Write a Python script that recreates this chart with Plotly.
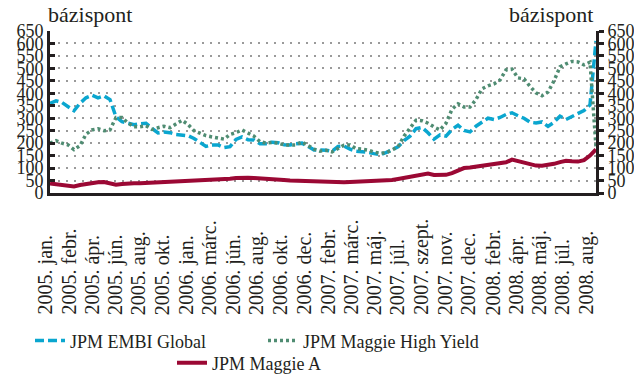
import plotly.graph_objects as go

# Spreads in basis points, roughly weekly, 2005 jan. -> 2008 autumn
embi_global = [
    360, 370, 363, 347, 330, 360, 382, 392, 382, 390,
    375, 305, 286, 280, 274, 278, 280, 259, 241, 245,
    242, 235, 233, 230, 219, 201, 187, 193, 193, 182,
    186, 215, 225, 214, 213, 198, 198, 204, 202, 194,
    193, 198, 200, 187, 173, 173, 172, 167, 187, 188,
    176, 168, 166, 163, 158, 154, 162, 174, 185, 210,
    228, 258, 263, 242, 216, 233, 228, 255, 272, 251,
    245, 268, 282, 300, 295, 303, 315, 322, 310, 300,
    284, 281, 285, 267, 284, 308, 295, 306, 319, 331,
    353, 610,
]
maggie_high_yield = [
    200, 210, 200, 193, 174, 190, 236, 253, 258, 250,
    253, 303, 303, 281, 266, 266, 270, 255, 262, 268,
    262, 278, 292, 275, 250, 240, 230, 225, 219, 216,
    235, 242, 253, 242, 228, 206, 200, 203, 200, 193,
    193, 193, 205, 190, 176, 168, 171, 165, 178, 192,
    193, 178, 176, 172, 164, 160, 161, 173, 185, 228,
    260, 292, 290, 280, 265, 253, 280, 336, 358, 345,
    345, 375, 418, 430, 438, 453, 494, 497, 462, 458,
    428, 402, 390, 405, 450, 506, 518, 528, 526, 514,
    525, 186,
]
maggie_a = [
    38, 34, 31, 27, 26, 32, 37, 40, 43, 44,
    38, 33, 36, 39, 39, 39, 40, 41, 41, 43,
    44, 46, 47, 48, 50, 51, 52, 53, 54, 55,
    57, 60, 62, 61, 60, 59, 58, 58, 56, 52,
    50, 49, 48, 48, 46, 45, 44, 42, 42, 43,
    44, 45, 45, 45, 45, 46, 49, 52, 56, 61,
    66, 69, 75, 78, 72, 71, 73, 80, 92, 100,
    102, 105, 107, 110, 114, 118, 123, 134, 128, 121,
    114, 110, 109, 112, 117, 124, 129, 127, 126, 132,
    150, 175,
]

date_labels = [
    "2005. jan.", "2005. febr.", "2005. ápr.", "2005. jún.", "2005. aug.",
    "2005. okt.", "2006. jan.", "2006. márc.", "2006. jún.", "2006. aug.",
    "2006. okt.", "2006. dec.", "2007. febr.", "2007. márc.", "2007. máj.",
    "2007. júl.", "2007. szept.", "2007. nov.", "2007. dec.", "2008. febr.",
    "2008. ápr.", "2008. máj.", "2008. júl.", "2008. aug.",
]
y_ticks = list(range(0, 651, 50))

x = list(range(len(embi_global)))
FONT = "Liberation Serif, Times New Roman, DejaVu Serif, serif"
TXT = "#231f20"

fig = go.Figure()

fig.add_trace(go.Scatter(
    x=x, y=embi_global, mode="lines", name="JPM EMBI Global",
    line=dict(color="#0aa6cf", width=3.5, dash="9px,4px"),
    legend="legend",
))
fig.add_trace(go.Scatter(
    x=x, y=maggie_high_yield, mode="lines", name="JPM Maggie High Yield",
    line=dict(color="#4f8c72", width=3.5, dash="3px,3px"),
    legend="legend2",
))
# Maggie A sits on the mirrored right axis so that axis gets drawn
fig.add_trace(go.Scatter(
    x=x, y=maggie_a, mode="lines", name="JPM Maggie A",
    line=dict(color="#9b0834", width=4),
    legend="legend3", yaxis="y2",
))

# date labels under the axis, bottom-aligned like the original
plot_w = 634 - 50 - 38
for k, lab in enumerate(date_labels):
    fig.add_annotation(
        x=(-5 + k * 23.55) / plot_w, y=-0.765, xref="paper", yref="paper",
        text=lab, textangle=-90, showarrow=False,
        xanchor="center", yanchor="bottom",
        font=dict(family=FONT, size=20, color=TXT),
    )

# unit labels above both axes
for centre in (90, 551):
    fig.add_annotation(
        x=(centre - 50) / plot_w, y=1.099, xref="paper", yref="paper",
        text="bázispont", showarrow=False, xanchor="center", yanchor="middle",
        font=dict(family=FONT, size=22, color=TXT),
    )

axis_font = dict(family=FONT, size=18, color=TXT)
legend_style = dict(xanchor="left", yanchor="middle", orientation="h",
                    font=axis_font, bgcolor="rgba(0,0,0,0)")
fig.update_layout(
    width=634, height=376,
    margin=dict(l=50, r=38, t=31, b=183, autoexpand=False),
    paper_bgcolor="white", plot_bgcolor="white",
    showlegend=True,
    xaxis=dict(
        range=[0, len(x) - 1], showgrid=False, zeroline=False,
        showline=True, linecolor="#231f20", linewidth=3,
        showticklabels=False, ticks="",
    ),
    yaxis=dict(
        range=[0, 650], tickvals=y_ticks, showgrid=True,
        gridcolor="#9a9a9a", gridwidth=1.5, griddash="2px,6px",
        zeroline=False, showline=True, linecolor="#231f20", linewidth=3,
        ticks="inside", ticklen=5, tickwidth=2.5, tickcolor="#231f20",
        tickfont=axis_font, ticklabelstandoff=0,
    ),
    yaxis2=dict(
        range=[0, 650], tickvals=y_ticks, overlaying="y", side="right",
        showgrid=False, zeroline=False, showline=True,
        linecolor="#231f20", linewidth=3,
        ticks="outside", ticklen=5, tickwidth=2.5, tickcolor="#231f20",
        tickfont=axis_font,
    ),
    legend=dict(x=(30 - 50) / plot_w, y=-0.913, **legend_style),
    legend2=dict(x=(263 - 50) / plot_w, y=-0.913, **legend_style),
    legend3=dict(x=(172 - 50) / plot_w, y=-1.05, **legend_style),
)

# drop the browser's default body margin so the 634x376 figure fills the window
fig.write_html("out.html", config={"displayModeBar": False},
               post_script="document.body.style.margin='0';")
